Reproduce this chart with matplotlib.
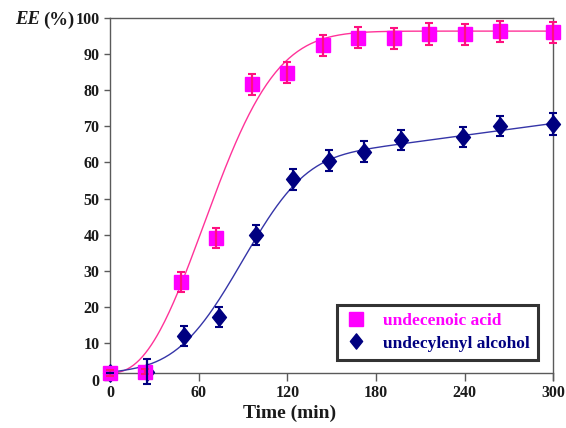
import numpy as np
import matplotlib
matplotlib.use("Agg")
import matplotlib.pyplot as plt
from matplotlib.path import Path
from matplotlib.lines import Line2D

# Encapsulation efficiency over time
t_acid = [0, 24, 48, 72, 96, 120, 144, 168, 192, 216, 240, 264, 300]
ee_acid = [1.8, 2.2, 27.0, 39.2, 81.6, 84.8, 92.4, 94.4, 94.3, 95.5, 95.4, 96.3, 96.0]
err_acid = [0.8, 0.8, 2.8, 2.8, 2.9, 2.9, 2.9, 2.9, 2.9, 3.0, 2.9, 2.9, 2.9]

t_alcohol = [0, 25, 50, 74, 99, 124, 148, 172, 197, 239, 264, 300]
ee_alcohol = [1.8, 2.2, 12.0, 17.2, 39.9, 55.3, 60.4, 63.0, 66.3, 67.1, 70.0, 70.6]
err_alcohol = [0.0, 3.4, 2.8, 2.8, 2.8, 2.9, 2.9, 2.9, 2.8, 2.8, 2.8, 3.1]

x_ticks = [0, 60, 120, 180, 240, 300]
y_ticks = [0, 10, 20, 30, 40, 50, 60, 70, 80, 90, 100]
labels = ["undecenoic acid", "undecylenyl alcohol"]

# Fitted kinetic curves (Weibull-type release model)
acid_fit = dict(base=1.8, amp=94.5, lam=81.0, k=2.31, slope=0.0)
alcohol_fit = dict(base=2.0, amp=52.3, lam=101.0, k=3.2, slope=0.055)


def kinetic(t, base, amp, lam, k, slope):
    return base + amp * (1 - np.exp(-(t / lam) ** k)) + slope * t


pink = "#FF00FF"
pink_bar = "#FF1080"
pink_line = "#FF3399"
navy = "#000080"
blue_line = "#3535A8"
spine_col = "#5a5a5a"

serif = ["Liberation Serif", "DejaVu Serif"]
plt.rcParams["font.family"] = serif
plt.rcParams["font.weight"] = "bold"

diamond = Path([(0, 1), (0.8, 0), (0, -1), (-0.8, 0), (0, 1)],
               [Path.MOVETO, Path.LINETO, Path.LINETO, Path.LINETO, Path.CLOSEPOLY])

fig = plt.figure(figsize=(5.66, 4.28), dpi=100)
ax = fig.add_axes([0.1943, 0.1133, 0.7836, 0.8453])

tt = np.linspace(0, 300, 301)
ax.plot(tt, kinetic(tt, **acid_fit), color=pink_line, lw=1.0, zorder=2)
ax.plot(tt, kinetic(tt, **alcohol_fit), color=blue_line, lw=1.0, zorder=2)

ax.plot(t_alcohol, ee_alcohol, ls="none", marker=diamond, ms=12.5,
        mfc=navy, mec=navy, zorder=3, clip_on=False)
ax.plot(t_acid, ee_acid, ls="none", marker="s", ms=10.5,
        mfc=pink, mec=pink, mew=1.0, zorder=4, clip_on=False)
ax.errorbar(t_acid, ee_acid, yerr=err_acid, fmt="none", ecolor=pink_bar,
            elinewidth=1.6, capsize=3, capthick=1.5, zorder=5, clip_on=False)
ax.errorbar(t_alcohol, ee_alcohol, yerr=err_alcohol, fmt="none", ecolor=navy,
            elinewidth=1.6, capsize=3, capthick=1.5, zorder=6, clip_on=False)

ax.set_xlim(0, 300)
ax.set_ylim(0, 100)
ax.set_xticks(x_ticks)
ax.set_yticks(y_ticks)
ax.spines["bottom"].set_position(("data", 1.8))
for s in ax.spines.values():
    s.set_color(spine_col)
    s.set_linewidth(1.0)
ax.tick_params(axis="x", direction="out", length=5.5, width=1.0, color=spine_col,
               labelsize=11.5, pad=3)
ax.tick_params(axis="y", direction="out", length=4.5, width=1.0, color=spine_col,
               labelsize=11.5, pad=3)
for lab in ax.get_xticklabels() + ax.get_yticklabels():
    lab.set_fontweight("bold")
    lab.set_color("#1a1a1a")

fig.text(290 / 566, 1 - 413 / 428, "Time (min)", ha="center", va="center",
         fontsize=14, fontweight="bold", color="#1a1a1a")
fig.text(40 / 566, 1 - 20 / 428, "EE", ha="right", va="center", fontsize=13.5,
         fontweight="bold", fontstyle="italic", color="#1a1a1a")
fig.text(43 / 566, 1 - 20 / 428, "(%)", ha="left", va="center", fontsize=13.5,
         fontweight="bold", color="#1a1a1a")

handles = [
    Line2D([], [], ls="none", marker="s", ms=10, mfc=pink, mec=pink),
    Line2D([], [], ls="none", marker=diamond, ms=11, mfc=navy, mec=navy),
]
leg = ax.legend(handles, labels, loc="upper left",
                bbox_to_anchor=((337.5 - 110) / 443.5, (379.5 - 304.5) / 361.8),
                frameon=True, fancybox=False, edgecolor="black",
                prop=dict(family=serif, weight="bold", size=12.5),
                labelcolor=[pink, navy], handlelength=1.1, handletextpad=1.0,
                borderpad=0.5, borderaxespad=0, labelspacing=0.35)
leg.get_frame().set_linewidth(2.2)
leg.set_zorder(10)

fig.savefig("out.png", dpi=100)
